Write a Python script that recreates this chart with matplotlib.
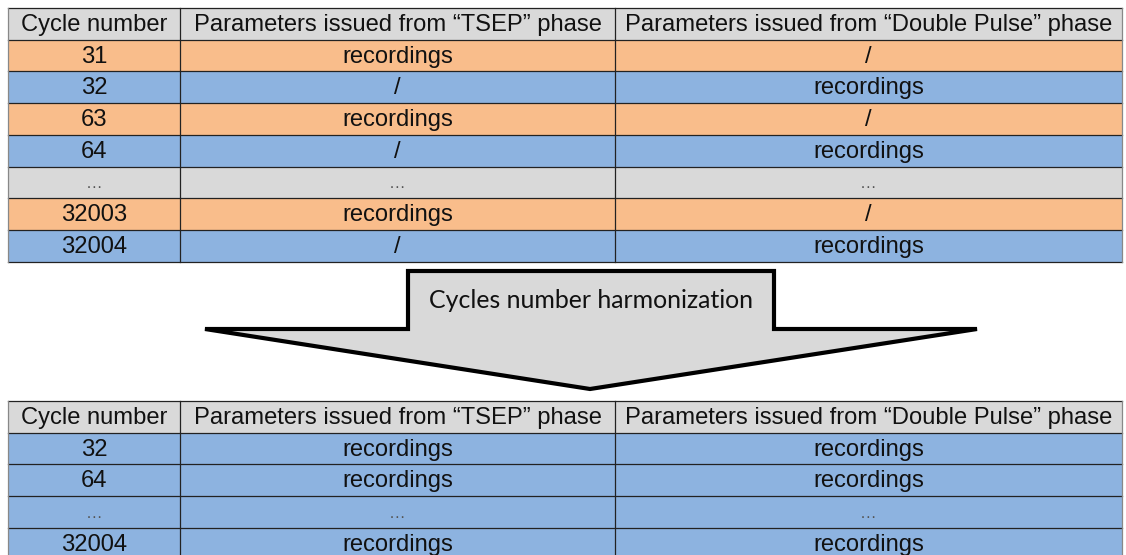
import matplotlib
matplotlib.use("Agg")
import matplotlib.pyplot as plt
from matplotlib.patches import Rectangle, Polygon

plt.rcParams['font.family'] = ['Liberation Sans', 'DejaVu Sans']

# table content
headers = ["Cycle number",
           "Parameters issued from \u201cTSEP\u201d phase",
           "Parameters issued from \u201cDouble Pulse\u201d phase"]

top_cycles = ["31", "32", "63", "64", "\u2026", "32003", "32004"]
top_tsep = ["recordings", "/", "recordings", "/", "\u2026", "recordings", "/"]
top_dp = ["/", "recordings", "/", "recordings", "\u2026", "/", "recordings"]
top_kind = ["tsep", "dp", "tsep", "dp", "gap", "tsep", "dp"]

bottom_cycles = ["32", "64", "\u2026", "32004"]
bottom_tsep = ["recordings", "recordings", "\u2026", "recordings"]
bottom_dp = ["recordings", "recordings", "\u2026", "recordings"]
bottom_kind = ["dp", "dp", "dp", "dp"]

arrow_label = "Cycles number harmonization"

colors = {"tsep": "#F9BD8B", "dp": "#8DB3E0", "gap": "#D9D9D9", "head": "#D9D9D9"}

# layout (pixels)
W, H = 1126, 555
col_x = [8, 180, 615, 1122]
row_h = 31.7


def draw_table(ax, top, cycles, tsep, dp, kind):
    rows = [(headers, "head")] + [([c, a, b], k) for c, a, b, k in zip(cycles, tsep, dp, kind)]
    for i, (cells, k) in enumerate(rows):
        y0 = top + i * row_h
        ax.add_patch(Rectangle((col_x[0], y0), col_x[-1] - col_x[0], row_h,
                               facecolor=colors[k], edgecolor="none"))
        for j, txt in enumerate(cells):
            xc = (col_x[j] + col_x[j + 1]) / 2
            if txt == "\u2026":
                ax.text(xc, y0 + row_h * 0.55, txt, ha="center", va="center",
                        fontsize=12, color="#555555")
            else:
                ax.text(xc, y0 + row_h / 2 + 1, txt, ha="center", va="center",
                        fontsize=17.1, color="#111111")
    bottom = top + len(rows) * row_h
    for i in range(len(rows) + 1):
        y = top + i * row_h
        ax.plot([col_x[0], col_x[-1]], [y, y], color="#222222", lw=0.9)
    for j, x in enumerate(col_x):
        c = "#222222" if 0 < j < len(col_x) - 1 else "#888888"
        ax.plot([x, x], [top, bottom], color=c, lw=0.9)


fig = plt.figure(figsize=(11.26, 5.55), dpi=100)
ax = fig.add_axes([0, 0, 1, 1])
ax.set_xlim(0, W)
ax.set_ylim(H, 0)
ax.axis("off")

draw_table(ax, 8, top_cycles, top_tsep, top_dp, top_kind)
draw_table(ax, 401, bottom_cycles, bottom_tsep, bottom_dp, bottom_kind)

# block arrow
arrow = Polygon([(408, 271), (774, 271), (774, 329), (977, 329),
                 (590, 389), (205, 329), (408, 329)], closed=True,
                facecolor="#D9D9D9", edgecolor="black", lw=3, joinstyle="miter")
ax.add_patch(arrow)
ax.text(591, 300, arrow_label, ha="center", va="center", fontsize=17.9,
        family=["Lato", "DejaVu Sans"], color="#111111")

fig.savefig("out.png", dpi=100)
